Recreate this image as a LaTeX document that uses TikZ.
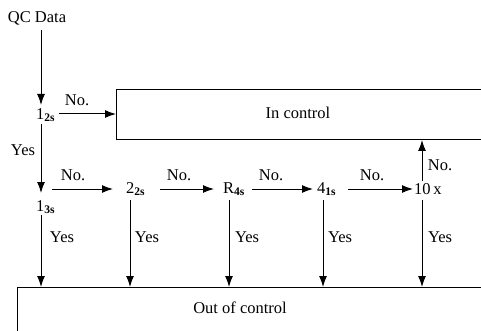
\documentclass[tikz,border=0pt]{standalone}
\usepackage{fontspec}
\setmainfont{Liberation Serif}
\usetikzlibrary{arrows.meta}
\begin{document}
\begin{tikzpicture}[x=1pt,y=-1pt,
  font=\fontsize{16.5}{19}\selectfont,
  arr/.style={draw, line width=1pt, -{Latex[length=11pt,width=8pt]}},
  box/.style={draw, line width=1pt},
  lbl/.style={inner sep=0pt},
  rule/.style={inner sep=0pt, anchor=west}]
\useasboundingbox (0,0) rectangle (481,331);
% boxes
\draw[box] (490,90) -- (116,90) -- (116,140) -- (490,140);
\draw[box] (490,287) -- (17,287) -- (17,340);
\node[lbl] (inc) at (298,113) {In control};
\node[lbl] (outc) at (240,308) {Out of control};
\coordinate (incL) at (116,114);
% nodes
\node[lbl] (qc) at (37,18) {QC Data};
\node[rule] (r12) at (36,115) {1\textsubscript{\textbf{2s}}};
\node[rule] (r13) at (36,207) {1\textsubscript{\textbf{3s}}};
\node[rule] (r22) at (126,189) {2\textsubscript{\textbf{2s}}};
\node[rule] (r4s) at (223,189) {R\textsubscript{\textbf{4s}}};
\node[rule] (r41) at (317,189) {4\textsubscript{\textbf{1s}}};
\node[rule] (r10) at (414,189) {10\,x};
% columns
\coordinate (top1) at (41,30);
% arrows
\draw[arr] (top1) -- (41,105);
\draw[arr] (59,114) -- (incL);
\draw[arr] (41,124) -- (41,193);
\draw[arr] (52,189) -- (113,189);
\draw[arr] (160,189) -- (214,189);
\draw[arr] (252,189) -- (313,189);
\draw[arr] (348,189) -- (413,189);
\draw[arr] (422,181) -- (422,140);
\draw[arr] (41,215) -- (41,287);
\draw[arr] (130,200) -- (130,287);
\draw[arr] (229,200) -- (229,287);
\draw[arr] (323,200) -- (323,287);
\draw[arr] (422,200) -- (422,287);
% labels
\node[lbl] at (77,100) {No.};
\node[lbl] at (23,150) {Yes};
\node[lbl] at (73,175) {No.};
\node[lbl] at (179,175) {No.};
\node[lbl] at (271,175) {No.};
\node[lbl] at (372,175) {No.};
\node[lbl] at (440,165) {No.};
\node[lbl] at (62,237) {Yes};
\node[lbl] at (147,237) {Yes};
\node[lbl] at (247,237) {Yes};
\node[lbl] at (340,237) {Yes};
\node[lbl] at (440,237) {Yes};
\end{tikzpicture}
\end{document}
